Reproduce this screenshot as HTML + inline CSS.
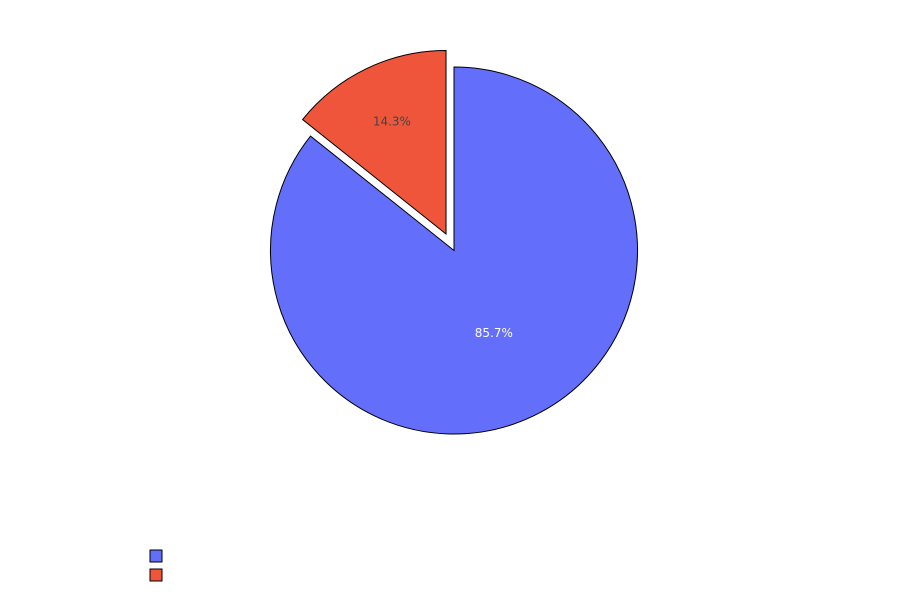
<!DOCTYPE html>
<html><head><meta charset="utf-8"><style>body{margin:0;background:#fff}svg{display:block}</style></head>
<body>
<svg id="chart" width="900" height="600" xmlns="http://www.w3.org/2000/svg"></svg>
<script>
const labels = ["A", "B"];
const values = [6, 1];
const colors = ["#636efa", "#ef553b"];
const pulls = [0, 0.1];
const textColors = ["#ffffff", "#444444"];
const labelRadius = [0.5, 0.68];
const svg = document.getElementById('chart');
const NS = 'http://www.w3.org/2000/svg';
const cx = 454, cy = 250.5, r = 183.5;
const total = values.reduce((a,b)=>a+b,0);
let ang = 0; // degrees clockwise from top
values.forEach((v,i)=>{
  const sweep = v/total*360;
  const a0 = ang, a1 = ang + sweep;
  ang = a1;
  const mid = (a0+a1)/2*Math.PI/180;
  const off = pulls[i]*r;
  const ox = cx + off*Math.sin(mid), oy = cy - off*Math.cos(mid);
  const p = a=>[ox + r*Math.sin(a*Math.PI/180), oy - r*Math.cos(a*Math.PI/180)];
  const [x0,y0]=p(a0),[x1,y1]=p(a1);
  const large = sweep>180?1:0;
  const path = document.createElementNS(NS,'path');
  path.setAttribute('d',`M${ox},${oy}L${x0},${y0}A${r},${r} 0 ${large} 1 ${x1},${y1}Z`);
  path.setAttribute('fill',colors[i]);
  path.setAttribute('stroke','#000');
  path.setAttribute('stroke-width','1');
  
  
  svg.appendChild(path);
  const tr = r*labelRadius[i];
  const t = document.createElementNS(NS,'text');
  t.setAttribute('x', ox + tr*Math.sin(mid));
  t.setAttribute('y', oy - tr*Math.cos(mid) + 4);
  t.setAttribute('text-anchor','middle');
  t.setAttribute('font-family','"DejaVu Sans", "Liberation Sans", sans-serif');
  t.setAttribute('font-size','12');
  t.setAttribute('fill',textColors[i]);
  t.textContent = (v/total*100).toFixed(1)+'%';
  
  
  svg.appendChild(t);
  const lg = document.createElementNS(NS,'rect');
  lg.setAttribute('x',150); lg.setAttribute('y',550+i*19);
  lg.setAttribute('width',12); lg.setAttribute('height',12);
  lg.setAttribute('fill',colors[i]); lg.setAttribute('stroke','#000'); lg.setAttribute('stroke-width','1');
  
  
  svg.appendChild(lg);
});
</script>
</body></html>
